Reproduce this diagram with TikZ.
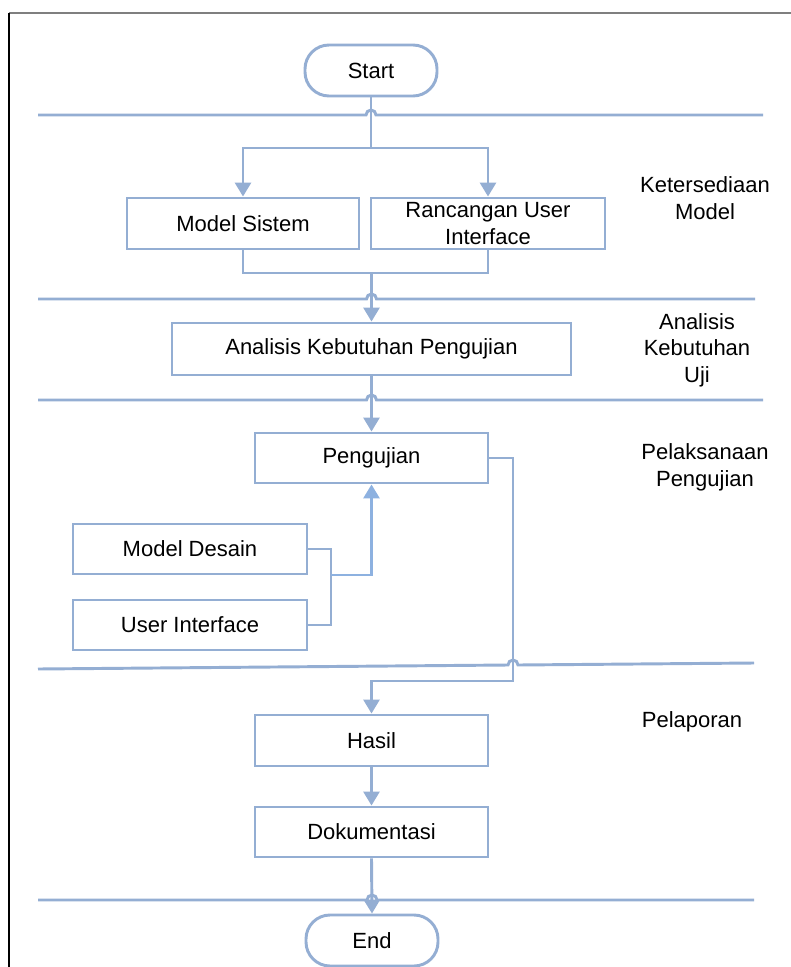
\documentclass[tikz,border=0pt]{standalone}
\usepackage{fontspec}
\setmainfont{Liberation Sans}
\usetikzlibrary{arrows.meta}
\definecolor{ln}{HTML}{94AED3}
\definecolor{lnb}{HTML}{8DB1E0}
\definecolor{frm}{HTML}{7F7F7F}
\newcommand\figfont{\fontsize{16.5}{20}\selectfont}
\begin{document}
\begin{tikzpicture}[x=0.75pt,y=-0.75pt,
  box/.style={draw=ln,line width=2.2pt,fill=white,inner sep=0pt,align=center,font=\figfont},
  term/.style={box,rounded corners=18pt},
  conn/.style={draw=ln,line width=2.2pt},
  arr/.style={conn,-{Triangle[width=12pt,length=10.5pt]}},
  sep/.style={draw=ln,line width=2.2pt},
  lab/.style={align=center,font=\figfont}]
\useasboundingbox (0,0) rectangle (791,967);
\fill[white] (0,0) rectangle (791,967);
% frame
\draw[frm,line width=1.6pt] (9,13) -- (791,13);
\draw[black,line width=1.6pt] (9,13) -- (9,967);
% separators with hops
\draw[sep] (38,115) -- (366,115) arc[start angle=180,end angle=360,radius=5] -- (763,115);
\draw[sep] (38,299) -- (366.5,299) arc[start angle=180,end angle=360,radius=5] -- (755,299);
\draw[sep] (38,400) -- (366.5,400) arc[start angle=180,end angle=360,radius=5] -- (763,400);
\draw[sep] (38,669) -- (508,665) arc[start angle=180,end angle=360,radius=5] -- (754,663);
\draw[sep] (38,900) -- (367,900) arc[start angle=180,end angle=360,radius=5] -- (754,900);
% nodes
\node[term,minimum width=99pt,minimum height=38.25pt] (start) at (371,70.5) {Start};
\node[box,minimum width=174pt,minimum height=38.25pt] (ms) at (243,223.5) {Model Sistem};
\node[box,minimum width=175.5pt,minimum height=38.25pt] (rui) at (488,223.5) {Rancangan User\\Interface};
\node[box,minimum width=299.25pt,minimum height=39pt] (akp) at (371.5,349) {Analisis Kebutuhan Pengujian};
\node[box,minimum width=174.75pt,minimum height=37.5pt] (pg) at (371.5,458) {Pengujian};
\node[box,minimum width=175.5pt,minimum height=37.5pt] (md) at (190,549) {Model Desain};
\node[box,minimum width=175.5pt,minimum height=37.5pt] (ui) at (190,625) {User Interface};
\node[box,minimum width=174.75pt,minimum height=38.25pt] (hasil) at (371.5,740.5) {Hasil};
\node[box,minimum width=174.75pt,minimum height=37.5pt] (dok) at (371.5,832) {Dokumentasi};
\node[term,minimum width=99pt,minimum height=38.25pt] (end) at (372,940.5) {End};
% side labels
\node[lab] (l1) at (705,198) {Ketersediaan\\Model};
\node[lab] (l2) at (697,350) {Analisis\\Kebutuhan\\Uji};
\node[lab] (l3) at (705,467) {Pelaksanaan\\Pengujian};
\node[lab] (l4) at (692,722) {Pelaporan};
% connectors
\coordinate (b1) at (371,148);
\coordinate (j2) at (371.5,273);
\coordinate (c4) at (513,681);
\coordinate (k1) at (331,575);
\draw[conn] (start.south) -- (b1);
\draw[arr] (b1) -| (ms.north);
\draw[arr] (b1) -| (rui.north);
\draw[conn] (ms.south) |- (j2) -| (rui.south);
\draw[arr] (j2) -- (akp.north);
\draw[arr] (akp.south) -- (pg.north);
\draw[arr] (pg.east) -| (c4) -| (hasil.north);
\draw[conn] (md.east) -| (k1) |- (ui.east);
\draw[arr,draw=lnb] (k1) -| (pg.south);
\draw[arr] (hasil.south) -- (dok.north);
\draw[arr] (dok.south) -- (end.north);
\end{tikzpicture}
\end{document}
